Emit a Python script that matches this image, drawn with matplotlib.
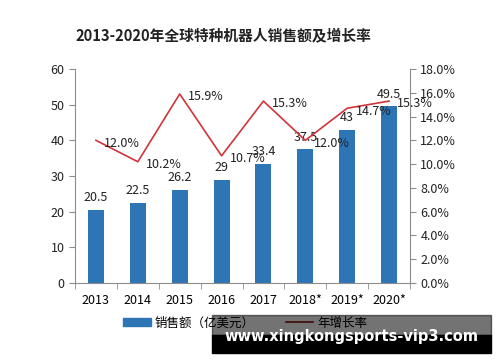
import numpy as np
import matplotlib.pyplot as plt
from matplotlib.patches import Rectangle
from matplotlib.lines import Line2D
from matplotlib.patches import Patch

plt.rcParams['font.family'] = ['Noto Sans CJK SC', 'DejaVu Sans']

# data
years = ["2013", "2014", "2015", "2016", "2017", "2018*", "2019*", "2020*"]
sales = [20.5, 22.5, 26.2, 29, 33.4, 37.5, 43, 49.5]
growth = [12.0, 10.2, 15.9, 10.7, 15.3, 12.0, 14.7, 15.3]
sales_labels = ["20.5", "22.5", "26.2", "29", "33.4", "37.5", "43", "49.5"]

bar_color = "#2E75B6"
line_color = "#D0343A"
spine_color = "#8C8C8C"

fig = plt.figure(figsize=(5, 3.62), dpi=100)
ax = fig.add_axes([75 / 500, 1 - 283 / 362, 335 / 500, 214 / 362])
x = np.arange(len(years))

ax.bar(x, sales, width=0.38, color=bar_color, zorder=2)
for xi, v, lab in zip(x, sales, sales_labels):
    ax.annotate(lab, (xi, v), xytext=(0, 4), textcoords="offset points",
                ha="center", va="bottom", fontsize=9, color="#222222", zorder=5)

ax.set_xlim(-0.5, len(years) - 0.5)
ax.set_ylim(0, 60)
ax.set_yticks(range(0, 61, 10))
ax.set_xticks(x)
ax.set_xticklabels(years)
ax.set_xticks(np.arange(-0.5, len(years), 1), minor=True)
ax.tick_params(axis="x", which="major", length=0, pad=8, labelsize=9)
ax.tick_params(axis="x", which="minor", length=4, color=spine_color)
ax.tick_params(axis="y", length=4, color=spine_color, labelsize=9, labelcolor="#222222")
ax.spines["top"].set_visible(False)
ax.spines["right"].set_visible(False)
for s in ("left", "bottom"):
    ax.spines[s].set_color(spine_color)

ax2 = ax.twinx()
ax2.plot(x, growth, color=line_color, lw=1.2, zorder=3)
for xi, g in zip(x, growth):
    ax2.annotate(f"{g:.1f}%", (xi, g), xytext=(6, -2), textcoords="offset points",
                 ha="left", va="center", fontsize=9, color="#222222")
ax2.set_ylim(0, 18)
ax2.set_yticks(np.arange(0, 18.1, 2))
ax2.set_yticklabels([f"{t:.1f}%" for t in np.arange(0, 18.1, 2)])
ax2.tick_params(axis="y", length=4, color=spine_color, labelsize=9, labelcolor="#222222")
for s in ("top", "left", "bottom"):
    ax2.spines[s].set_visible(False)
ax2.spines["right"].set_color(spine_color)

fig.text(223 / 500, 1 - 36 / 362, "2013-2020年全球特种机器人销售额及增长率",
         ha="center", va="center", fontsize=10.6, fontweight="bold", color="#222222")

handles = [Patch(color=bar_color, label="销售额（亿美元）"),
           Line2D([], [], color="#8B1A1A", lw=1.2, label="年增长率")]
fig.legend(handles=handles, loc="center", bbox_to_anchor=(245 / 500, 1 - 323 / 362),
           ncol=2, frameon=False, fontsize=9, handlelength=2.2, handleheight=0.6,
           handletextpad=0.3, columnspacing=2.5)

# watermark band
fig.add_artist(Rectangle((212 / 500, 1 - 335 / 362), 279 / 500, 20 / 362,
                         transform=fig.transFigure, color="black", alpha=0.55, zorder=10))
fig.add_artist(Rectangle((212 / 500, 1 - 353 / 362), 279 / 500, 18 / 362,
                         transform=fig.transFigure, color="black", zorder=10))
fig.text(351 / 500, 1 - 337 / 362, "www.xingkongsports-vip3.com", ha="center", va="center",
         fontsize=10.5, fontweight="bold", color="white", family="DejaVu Sans", zorder=11)

fig.savefig("out.png", dpi=100)
